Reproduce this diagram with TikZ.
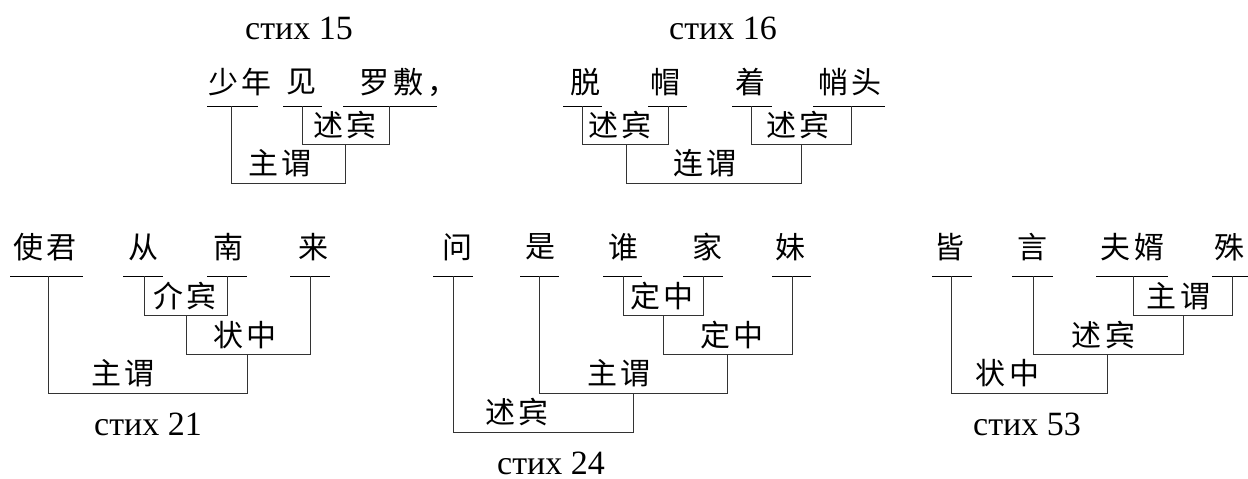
\documentclass[tikz,border=0pt]{standalone}
\usepackage{fontspec}
\setmainfont{Liberation Serif}
\newfontfamily\cjk{Noto Sans CJK SC}
\newcommand\cg{\hspace{4pt}}
\tikzset{
  word/.style={inner sep=0pt, font=\cjk\fontsize{30}{33}\selectfont},
  rel/.style={inner sep=0pt, font=\cjk\fontsize{30}{33}\selectfont},
  title/.style={inner sep=0pt, font=\fontsize{34}{38}\selectfont},
  ul/.style={line width=1pt, black},
  br/.style={line width=1pt, black!80},
}
\begin{document}
\begin{tikzpicture}[x=1pt,y=-1pt]
\useasboundingbox (0,0) rectangle (1248,479);
% ---------- стих 15
\node[title] (t15) at (299,28) {стих 15};
\node[word] (a1) at (240,82) {少\cg 年};
\node[word] (a2) at (301,82) {见};
\node[word,anchor=west] (a3) at (359,82) {罗\cg 敷\cg ，};
\draw[ul] (207,106) -- (258,106);
\draw[ul] (283,106) -- (322,106);
\draw[ul] (343,106) -- (437,106);
\draw[br] (302,106) -- (302,144) -- (389,144) -- (389,106);
\node[rel] (a4) at (345,125) {述\cg 宾};
\draw[br] (231,106) -- (231,183) -- (345,183) -- (345,144);
\node[rel] (a5) at (280,163) {主\cg 谓};
% ---------- стих 16
\node[title] (t16) at (723,28) {стих 16};
\node[word] (b1) at (585,82) {脱};
\node[word] (b2) at (665,82) {帽};
\node[word] (b3) at (750,82) {着};
\node[word] (b4) at (850,82) {帩\cg 头};
\draw[ul] (563,106) -- (602,106);
\draw[ul] (648,106) -- (687,106);
\draw[ul] (732,106) -- (772,106);
\draw[ul] (813,106) -- (885,106);
\draw[br] (582,106) -- (582,144) -- (668,144) -- (668,106);
\node[rel] (b5) at (620,125) {述\cg 宾};
\draw[br] (751,106) -- (751,144) -- (851,144) -- (851,106);
\node[rel] (b6) at (798,125) {述\cg 宾};
\draw[br] (626,144) -- (626,183) -- (801,183) -- (801,144);
\node[rel] (b7) at (705,163) {连\cg 谓};
% ---------- стих 21
\node[title] (t21) at (148,424) {стих 21};
\node[word] (c1) at (45,247) {使\cg 君};
\node[word] (c2) at (143,247) {从};
\node[word] (c3) at (228,247) {南};
\node[word] (c4) at (313,247) {来};
\draw[ul] (10,276) -- (83,276);
\draw[ul] (123,276) -- (163,276);
\draw[ul] (207,276) -- (247,276);
\draw[ul] (290,276) -- (330,276);
\draw[br] (144,276) -- (144,315) -- (227,315) -- (227,276);
\node[rel] (c5) at (185,296) {介\cg 宾};
\draw[br] (186,315) -- (186,354) -- (310,354) -- (310,276);
\node[rel] (c6) at (245,335) {状\cg 中};
\draw[br] (48,276) -- (48,393) -- (247,393) -- (247,354);
\node[rel] (c7) at (123,373) {主\cg 谓};
% ---------- стих 24
\node[title] (t24) at (551,463) {стих 24};
\node[word] (d1) at (457,247) {问};
\node[word] (d2) at (540,247) {是};
\node[word] (d3) at (623,247) {谁};
\node[word] (d4) at (707,247) {家};
\node[word] (d5) at (790,247) {妹};
\draw[ul] (433,276) -- (473,276);
\draw[ul] (520,276) -- (559,276);
\draw[ul] (603,276) -- (642,276);
\draw[ul] (683,276) -- (723,276);
\draw[ul] (772,276) -- (811,276);
\draw[br] (623,276) -- (623,315) -- (703,315) -- (703,276);
\node[rel] (d6) at (662,296) {定\cg 中};
\draw[br] (663,315) -- (663,354) -- (792,354) -- (792,276);
\node[rel] (d7) at (732,335) {定\cg 中};
\draw[br] (539,276) -- (539,393) -- (727,393) -- (727,354);
\node[rel] (d8) at (619,373) {主\cg 谓};
\draw[br] (453,276) -- (453,432) -- (633,432) -- (633,393);
\node[rel] (d9) at (517,412) {述\cg 宾};
% ---------- стих 53
\node[title] (t53) at (1027,424) {стих 53};
\node[word] (e1) at (949,247) {皆};
\node[word] (e2) at (1032,247) {言};
\node[word] (e3) at (1132,247) {夫\cg 婿};
\node[word] (e4) at (1229,247) {殊};
\draw[ul] (932,276) -- (972,276);
\draw[ul] (1012,276) -- (1053,276);
\draw[ul] (1096,276) -- (1168,276);
\draw[ul] (1212,276) -- (1248,276);
\draw[br] (1133,276) -- (1133,315) -- (1232,315) -- (1232,276);
\node[rel] (e5) at (1178,296) {主\cg 谓};
\draw[br] (1033,276) -- (1033,354) -- (1183,354) -- (1183,315);
\node[rel] (e6) at (1103,335) {述\cg 宾};
\draw[br] (951,276) -- (951,393) -- (1107,393) -- (1107,354);
\node[rel] (e7) at (1007,373) {状\cg 中};
\end{tikzpicture}
\end{document}
